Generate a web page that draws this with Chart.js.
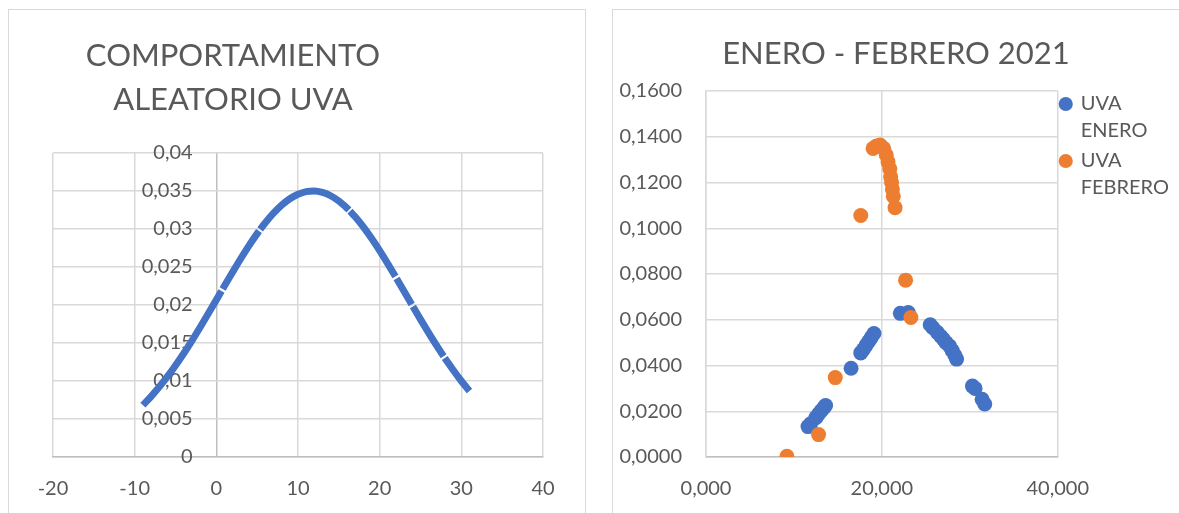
<!DOCTYPE html>
<html>
<head>
<meta charset="utf-8">
<script src="https://cdn.jsdelivr.net/npm/chart.js@4.4.1/dist/chart.umd.min.js"></script>
<style>
html, body { margin: 0; padding: 0; background: #ffffff; width: 1179px; height: 513px; overflow: hidden; }
.box { position: absolute; border: 1px solid #d9d9d9; background: #ffffff; box-sizing: border-box; }
#boxL { left: 8px; top: 9px; width: 578px; height: 530px; }
#boxR { left: 612px; top: 9px; width: 600px; height: 530px; }
canvas { position: absolute; }
#cL { left: 9px; top: 10px; }
#cR { left: 613px; top: 10px; }
</style>
</head>
<body>
<div class="box" id="boxL"></div>
<div class="box" id="boxR"></div>
<canvas id="cL" width="575" height="503"></canvas>
<canvas id="cR" width="566" height="503"></canvas>
<script>
// ---------- Left chart: COMPORTAMIENTO ALEATORIO UVA ----------
const leftTitle = ['COMPORTAMIENTO', 'ALEATORIO UVA'];
const leftX = [-9, -8, -7, -6, -5, -4, -3, -2, -1, 0, 0.63, 0.7, 0.77, 1, 2, 3, 4, 5, 5.23, 5.3, 5.37, 6, 7, 8, 9, 10, 11, 12, 13, 14, 15, 16, 16.23, 16.3, 16.37, 17, 18, 19, 20, 21, 21.93, 22, 22.07, 23, 23.93, 24, 24.07, 25, 26, 27, 27.83, 27.9, 27.97, 29, 30, 31];
const leftY = [0.00682, 0.00795, 0.00920, 0.01056, 0.01204, 0.01362, 0.01529, 0.01704, 0.01884, 0.02067, 0.02184, null, 0.02210, 0.02252, 0.02434, 0.02612, 0.02781, 0.02939, 0.02973, null, 0.02994, 0.03082, 0.03208, 0.03314, 0.03398, 0.03457, 0.03492, 0.03500, 0.03481, 0.03437, 0.03367, 0.03274, 0.03250, null, 0.03234, 0.03160, 0.03027, 0.02877, 0.02715, 0.02541, 0.02374, null, 0.02349, 0.02178, 0.02007, null, 0.01981, 0.01811, 0.01633, 0.01461, 0.01325, null, 0.01302, 0.01144, 0.01000, 0.00868];
const leftXTicks = ['-20', '-10', '0', '10', '20', '30', '40'];
const leftYTicks = ['0', '0,005', '0,01', '0,015', '0,02', '0,025', '0,03', '0,035', '0,04'];

// ---------- Right chart: ENERO - FEBRERO 2021 ----------
const rightTitle = 'ENERO - FEBRERO 2021';
const seriesNames = ['UVA ENERO', 'UVA FEBRERO'];
const legendLines = [['UVA', 'ENERO'], ['UVA', 'FEBRERO']];
const eneroX = [11.6, 11.9, 12.5, 12.8, 13.1, 13.4, 13.6, 16.5, 17.6, 17.9, 18.2, 18.5, 18.8, 19.1, 22.1, 23.0, 25.5, 25.8, 26.3, 26.7, 27.0, 27.3, 27.7, 28.0, 28.3, 28.5, 30.3, 30.6, 31.4, 31.7];
const eneroY = [0.0133, 0.0145, 0.0172, 0.0188, 0.0202, 0.0215, 0.0225, 0.0388, 0.0455, 0.0470, 0.0488, 0.0505, 0.0522, 0.0540, 0.0628, 0.0632, 0.0578, 0.0565, 0.0545, 0.0528, 0.0515, 0.0500, 0.0485, 0.0465, 0.0445, 0.0428, 0.0310, 0.0300, 0.0252, 0.0232];
const febreroX = [9.2, 12.8, 14.7, 17.6, 19.0, 19.4, 19.8, 20.2, 20.5, 20.7, 20.9, 21.0, 21.1, 21.2, 21.3, 21.5, 22.7, 23.3];
const febreroY = [0.0003, 0.0098, 0.0347, 0.1056, 0.1349, 0.1360, 0.1364, 0.1350, 0.1320, 0.1290, 0.1260, 0.1225, 0.1200, 0.1170, 0.1140, 0.1090, 0.0773, 0.0610];
const rightXTicks = ['0,000', '20,000', '40,000'];
const rightYTicks = ['0,0000', '0,0200', '0,0400', '0,0600', '0,0800', '0,1000', '0,1200', '0,1400', '0,1600'];

const BLUE = '#4472C4';
const ORANGE = '#ED7D31';
const TEXT = '#595959';
const GRID = '#d9d9d9';
const AXIS = '#bfbfbf';
const FONT = 'Lato';

// Plugin: re-centre the title block horizontally at a chosen x
const titleShift = {
  id: 'titleShift',
  afterLayout(chart, args, opts) {
    const t = chart.titleBlock;
    if (!t || opts.cx === undefined) return;
    const w = t.right - t.left;
    t.left = opts.cx - w / 2;
    t.right = opts.cx + w / 2;
  }
};

const tickFont = { family: FONT, size: 20 };

new Chart(document.getElementById('cL'), {
  type: 'scatter',
  data: {
    datasets: [{
      label: 'UVA',
      data: leftX.map((x, i) => ({ x: x, y: leftY[i] })),
      showLine: true,
      spanGaps: false,
      borderColor: BLUE,
      backgroundColor: BLUE,
      borderWidth: 7,
      borderCapStyle: 'butt',
      borderJoinStyle: 'round',
      cubicInterpolationMode: 'monotone',
      pointRadius: 0
    }]
  },
  options: {
    responsive: false,
    animation: false,
    devicePixelRatio: 1,
    events: [],
    layout: { padding: { left: 44, right: 41, top: 0, bottom: 0 } },
    plugins: {
      legend: { display: false },
      tooltip: { enabled: false },
      title: {
        display: true, text: leftTitle, color: TEXT,
        font: { family: FONT, size: 31, weight: 'normal', lineHeight: 1.435 },
        padding: { top: 23.5, bottom: 30.5 }
      },
      titleShift: { cx: 224 }
    },
    scales: {
      x: {
        type: 'linear', min: -20, max: 40,
        ticks: { stepSize: 10, autoSkip: false, maxRotation: 0, padding: 20, color: TEXT, font: tickFont,
                 callback: (v, i) => leftXTicks[i] },
        grid: { color: ctx => (ctx.tick && ctx.tick.value === 0 ? AXIS : GRID), lineWidth: 1.5, drawTicks: false },
        border: { color: AXIS, width: 1.5 },
        afterFit: s => { s.height = 56; }
      },
      y: {
        // labels sit just left of the vertical axis at x = 0
        type: 'linear', position: { x: -2.9 }, min: 0, max: 0.04,
        ticks: { stepSize: 0.005, autoSkip: false, color: TEXT, font: tickFont,
                 callback: (v, i) => leftYTicks[i] },
        grid: { color: GRID, lineWidth: 1.5, drawTicks: false },
        border: { display: false }
      }
    }
  },
  plugins: [titleShift]
});

new Chart(document.getElementById('cR'), {
  type: 'scatter',
  data: {
    datasets: [
      { label: seriesNames[0], data: eneroX.map((x, i) => ({ x: x, y: eneroY[i] })),
        backgroundColor: BLUE, borderColor: BLUE, borderWidth: 0, pointRadius: 7.5, order: 1 },
      { label: seriesNames[1], data: febreroX.map((x, i) => ({ x: x, y: febreroY[i] })),
        backgroundColor: ORANGE, borderColor: ORANGE, borderWidth: 0, pointRadius: 7.5, order: 0 }
    ]
  },
  options: {
    responsive: false,
    animation: false,
    devicePixelRatio: 1,
    events: [],
    layout: { padding: { left: 0, right: 0, top: 0, bottom: 0 } },
    plugins: {
      tooltip: { enabled: false },
      title: {
        display: true, text: rightTitle, color: TEXT,
        font: { family: FONT, size: 31, weight: 'normal', lineHeight: 1.2 },
        padding: { top: 25.4, bottom: 18.4 }
      },
      titleShift: { cx: 283 },
      legend: {
        display: true, position: 'right', align: 'start', fullSize: false,
        labels: {
          usePointStyle: true, boxWidth: 10, boxHeight: 10, padding: 3, color: TEXT,
          font: { family: FONT, size: 20, lineHeight: 1.35 },
          generateLabels: chart => chart.data.datasets.map((ds, i) => ({
            text: legendLines[i], fillStyle: ds.backgroundColor, strokeStyle: ds.backgroundColor,
            lineWidth: 0, pointStyle: 'circle', hidden: false, datasetIndex: i, fontColor: TEXT
          }))
        }
      }
    },
    scales: {
      x: {
        type: 'linear', min: 0, max: 40,
        ticks: { stepSize: 20, autoSkip: false, maxRotation: 0, padding: 20, color: TEXT, font: tickFont,
                 callback: (v, i) => rightXTicks[i] },
        grid: { color: GRID, lineWidth: 1.5, drawTicks: false },
        border: { color: AXIS, width: 1.5 },
        afterFit: s => { s.height = 56; }
      },
      y: {
        type: 'linear', position: 'left', min: 0, max: 0.16,
        ticks: { stepSize: 0.02, autoSkip: false, padding: 24, color: TEXT, font: tickFont,
                 callback: (v, i) => rightYTicks[i] },
        grid: { color: GRID, lineWidth: 1.5, drawTicks: false },
        border: { color: GRID, width: 1.5 },
        afterFit: s => { s.width = 93; }
      }
    }
  },
  plugins: [titleShift]
});
</script>
</body>
</html>
